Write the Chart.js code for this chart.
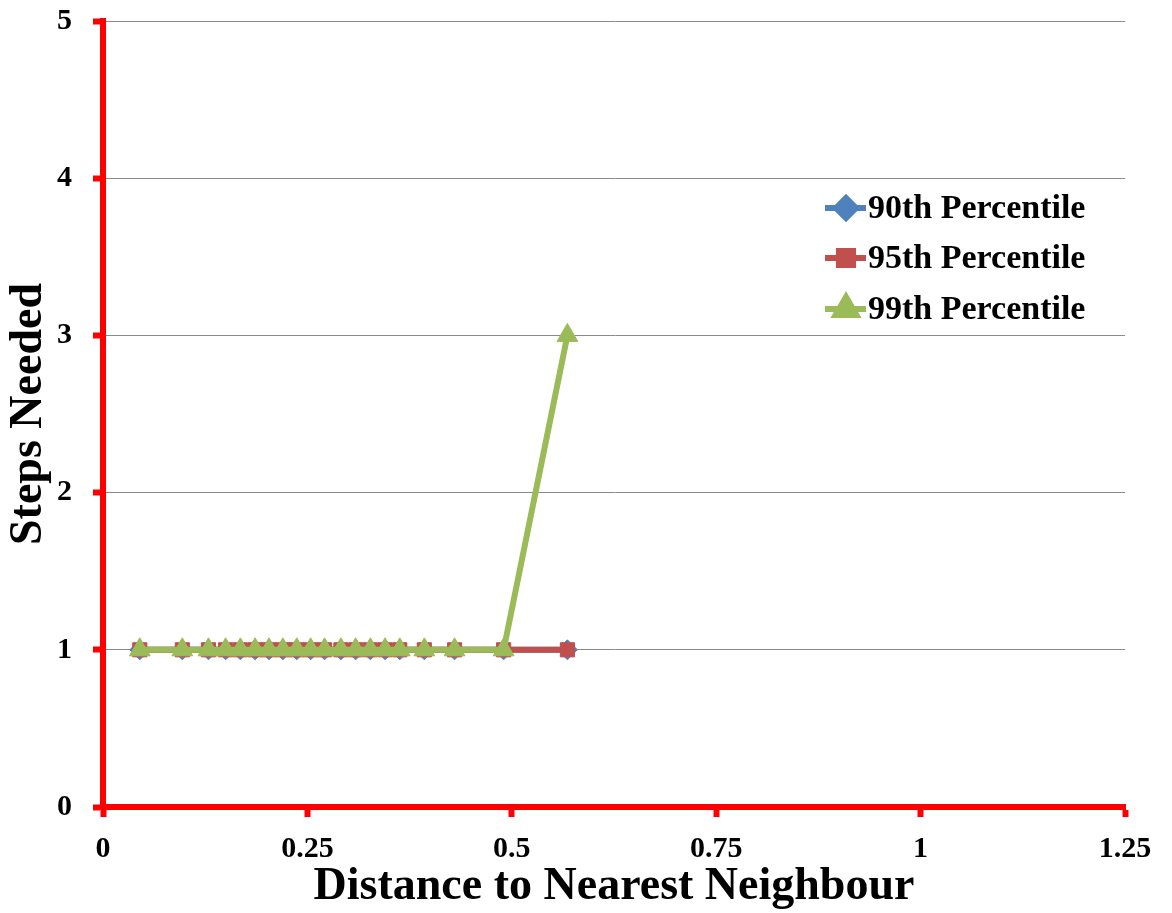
<!DOCTYPE html>
<html>
<head>
<meta charset="utf-8">
<script src="https://cdn.jsdelivr.net/npm/chart.js@4/dist/chart.umd.min.js"></script>
<style>
html,body{margin:0;padding:0;background:#fff;}
#wrap{width:1172px;height:913px;}
</style>
</head>
<body>
<div id="wrap"><canvas id="chart" width="1172" height="913"></canvas></div>
<script>
// values
const distance = [0.045, 0.097, 0.129, 0.150, 0.168, 0.186, 0.203, 0.220, 0.237, 0.254,
                  0.271, 0.291, 0.309, 0.327, 0.345, 0.363, 0.393, 0.430, 0.490, 0.568];
const p90 = [1, 1, 1, 1, 1, 1, 1, 1, 1, 1, 1, 1, 1, 1, 1, 1, 1, 1, 1, 1];
const p95 = [1, 1, 1, 1, 1, 1, 1, 1, 1, 1, 1, 1, 1, 1, 1, 1, 1, 1, 1, 1];
const p99 = [1, 1, 1, 1, 1, 1, 1, 1, 1, 1, 1, 1, 1, 1, 1, 1, 1, 1, 1, 3];
const seriesNames = ['90th Percentile', '95th Percentile', '99th Percentile'];
const xTicks = [0, 0.25, 0.5, 0.75, 1, 1.25];
const yTicks = [0, 1, 2, 3, 4, 5];

const FONT = "'Liberation Serif', 'Times New Roman', serif";
const AXIS_RED = '#ff0000';

function toPoints(ys){
     let pts = [];
     for(let i = 0; i < distance.length; i++){
          pts.push({x: distance[i], y: ys[i]});
     }
     return pts;
}

function makeSet(label, ys, color, style, radius, order){
     return {
          label: label,
          data: toPoints(ys),
          borderColor: color,
          backgroundColor: color,
          borderWidth: 6,
          pointStyle: style,
          pointRadius: radius,
          pointBorderWidth: 1,
          pointBorderColor: color,
          pointBackgroundColor: color,
          tension: 0,
          showLine: true,
          order: order
     };
}

// legend drawn by hand, inside the plot like the original
const sideLegend = {
     id: 'sideLegend',
     afterDraw(chart){
          const ctx = chart.ctx;
          const rows = [208, 258, 309];
          ctx.save();
          chart.data.datasets.forEach((ds, i) => {
               let y = rows[i];
               ctx.strokeStyle = ds.borderColor;
               ctx.lineWidth = 6;
               ctx.beginPath();
               ctx.moveTo(825, y);
               ctx.lineTo(866, y);
               ctx.stroke();
               ctx.fillStyle = ds.backgroundColor;
               Chart.helpers.drawPoint(ctx, {
                    pointStyle: ds.pointStyle,
                    radius: ds.pointRadius,
                    borderWidth: 1,
                    rotation: 0
               }, 846, y);
               ctx.fillStyle = '#000';
               ctx.font = 'bold 34px ' + FONT;
               ctx.textBaseline = 'middle';
               ctx.textAlign = 'left';
               ctx.fillText(ds.label, 868, y + 1);
          });
          ctx.restore();
     }
};

const ctx = document.getElementById('chart').getContext('2d');
const myChart = new Chart(ctx, {
     type: 'scatter',
     data: {
          datasets: [
               makeSet(seriesNames[0], p90, '#4f81bd', 'rectRot', 10, 3),
               makeSet(seriesNames[1], p95, '#c0504d', 'rect', 10, 2),
               makeSet(seriesNames[2], p99, '#9bbb59', 'triangle', 12, 1)
          ]
     },
     plugins: [sideLegend],
     options: {
          responsive: false,
          animation: false,
          layout: {
               padding: {left: 0, right: 47, top: 21, bottom: 0}
          },
          plugins: {
               legend: {display: false},
               tooltip: {enabled: false}
          },
          scales: {
               x: {
                    type: 'linear',
                    min: xTicks[0],
                    max: xTicks[xTicks.length - 1],
                    afterBuildTicks: (scale) => { scale.ticks = xTicks.map(v => ({value: v})); },
                    afterFit: (scale) => { scale.height = 106; },
                    border: {color: AXIS_RED, width: 6},
                    grid: {
                         drawOnChartArea: false,
                         drawTicks: true,
                         tickColor: AXIS_RED,
                         tickWidth: 6,
                         tickLength: 10
                    },
                    ticks: {
                         color: '#000',
                         padding: 14,
                         maxRotation: 0,
                         callback: (v) => String(v),
                         font: {family: FONT, size: 30, weight: 'bold'}
                    },
                    title: {
                         display: true,
                         text: 'Distance to Nearest Neighbour',
                         color: '#000',
                         padding: {top: 0, bottom: 3},
                         font: {family: FONT, size: 46, weight: 'bold', lineHeight: 1}
                    }
               },
               y: {
                    type: 'linear',
                    min: yTicks[0],
                    max: yTicks[yTicks.length - 1],
                    afterBuildTicks: (scale) => { scale.ticks = yTicks.map(v => ({value: v})); },
                    afterFit: (scale) => {
                         scale.width = 103;
                         scale.paddingTop = 0;
                         scale.paddingBottom = 0;
                    },
                    border: {color: AXIS_RED, width: 6},
                    grid: {
                         color: '#8a8a8a',
                         lineWidth: 1,
                         drawTicks: true,
                         tickColor: AXIS_RED,
                         tickWidth: 6,
                         tickLength: 10
                    },
                    ticks: {
                         color: '#000',
                         padding: 21,
                         callback: (v) => String(v),
                         font: {family: FONT, size: 30, weight: 'bold'}
                    },
                    title: {
                         display: true,
                         text: 'Steps Needed',
                         color: '#000',
                         padding: {top: 6, bottom: 0},
                         font: {family: FONT, size: 46, weight: 'bold', lineHeight: 1}
                    }
               }
          }
     }
});
</script>
</body>
</html>
